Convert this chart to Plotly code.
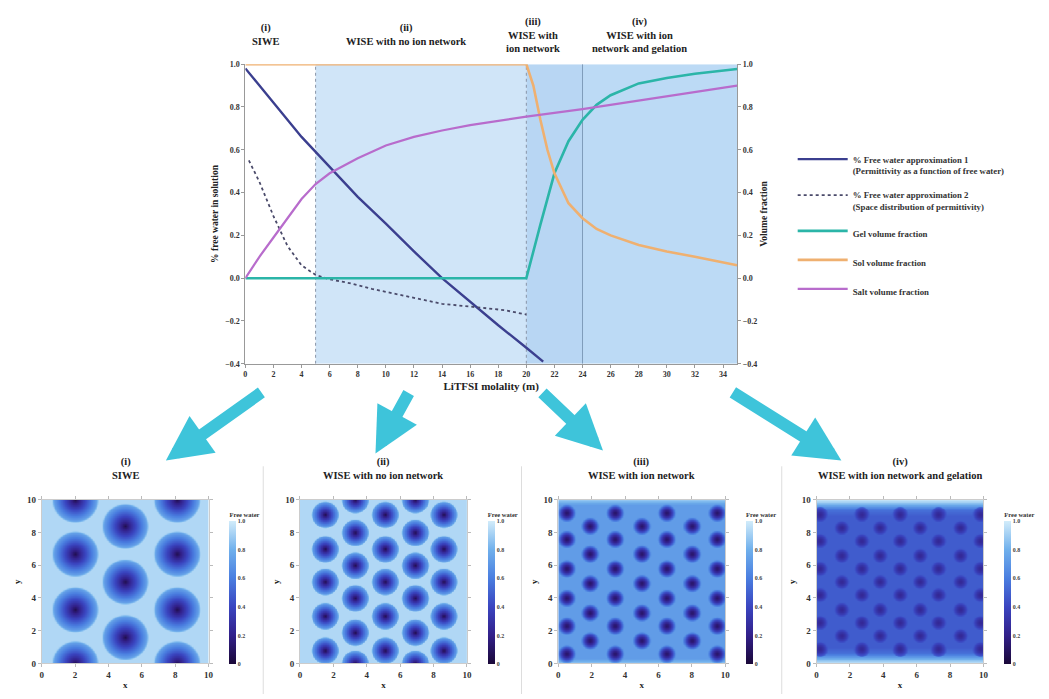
import numpy as np
import plotly.graph_objects as go

W, H = 1049, 699
FONT = "Liberation Serif"

# ---------------- main chart data ----------------
x_ticks = list(range(0, 36, 2))
y_ticks = [-0.4, -0.2, 0.0, 0.2, 0.4, 0.6, 0.8, 1.0]

approx1_x = [0, 2, 4, 6, 8, 10, 12, 14, 16, 18, 20, 21.2]
approx1_y = [0.98, 0.82, 0.66, 0.52, 0.38, 0.255, 0.125, 0.0, -0.11, -0.22, -0.325, -0.39]

approx2_x = [0.25, 1, 1.5, 2, 2.5, 3, 4, 5, 6, 7.4, 9, 10.9, 12.5, 14, 16.8, 18.5, 20]
approx2_y = [0.55, 0.45, 0.37, 0.29, 0.22, 0.15, 0.06, 0.015, -0.005, -0.023, -0.05,
             -0.077, -0.10, -0.12, -0.138, -0.15, -0.17]

gel_x = [0, 20, 21, 22, 23, 24, 25, 26, 28, 30, 32, 35]
gel_y = [0, 0, 0.25, 0.49, 0.64, 0.74, 0.81, 0.855, 0.91, 0.935, 0.955, 0.977]

sol_x = [0, 20, 20.5, 21, 21.5, 22, 23, 24, 25, 26, 28, 30, 32, 35]
sol_y = [1, 1, 0.9, 0.74, 0.6, 0.49, 0.35, 0.28, 0.23, 0.2, 0.155, 0.125, 0.1, 0.06]

salt_x = [0, 1, 2, 3, 4, 5, 6, 8, 10, 12, 14, 16, 18, 20, 24, 28, 32, 35]
salt_y = [0.0, 0.1, 0.19, 0.28, 0.37, 0.44, 0.49, 0.56, 0.62, 0.66, 0.69, 0.715,
          0.735, 0.755, 0.79, 0.83, 0.87, 0.9]

region_edges = [5, 20, 24, 35]
region_labels = ["(i)<br>SIWE", "(ii)<br>WISE with no ion network",
                 "(iii)<br>WISE with<br>ion network",
                 "(iv)<br>WISE with ion<br>network and gelation"]
panel_titles = ["(i)<br>SIWE", "(ii)<br>WISE with no ion network",
                "(iii)<br>WISE with ion network",
                "(iv)<br>WISE with ion network and gelation"]

legend_names = ["% Free water approximation 1<br>(Permittivity as a function of free water)",
                "% Free water approximation 2<br>(Space distribution of permittivity)",
                "Gel volume fraction", "Sol volume fraction", "Salt volume fraction"]

# ---------------- heat-map panel data (well centres) ----------------
siwe_groups = [([2.0, 8.1], [0.0, 3.3, 6.7, 10.0]), ([5.0], [1.6, 5.0, 8.4])]
wise_groups = [([1.5, 5.1, 8.6], [0.8, 2.9, 5.0, 7.0, 9.1]),
               ([3.3, 6.9], [0.0, 1.9, 4.0, 6.0, 8.0, 10.0])]
ion_groups = [([0.5, 3.4, 6.5, 9.5], [0.6, 2.3, 4.0, 5.8, 7.6, 9.2]),
              ([1.9, 5.0, 8.0], [1.4, 3.1, 4.9, 6.7, 8.4])]
gel_groups = [([0.2, 2.7, 5.0, 7.3, 9.8], [0.9, 2.5, 4.2, 5.8, 7.5, 9.1]),
              ([1.5, 3.8, 6.2, 8.6], [1.7, 3.3, 5.0, 6.6, 8.3])]
# well radius, centre value, rim value, profile exponent, background value, rim blur width
well_params = [
    (1.28, 0.05, 0.74, 0.9, 0.93, 0.12),
    (0.75, 0.05, 0.72, 0.9, 0.93, 0.08),
    (0.55, 0.12, 0.72, 1.6, 0.72, 0.05),
    (0.45, 0.24, 0.48, 1.6, 0.48, 0.05),
]
# brightening near top/bottom borders: distance from border -> value
edge_dist = [0.0, 0.15, 0.3, 0.6, 1.0]
edge_vals = [
    None,
    None,
    [0.88, 0.80, 0.72, 0.72, 0.72],
    [0.97, 0.9, 0.78, 0.56, 0.48],
]

cscale = [[0.0, "#1a0838"], [0.2, "#32208a"], [0.4, "#3a45c0"],
          [0.6, "#4a7ee0"], [0.8, "#70b0ec"], [1.0, "#d2ecfa"]]

grid = np.linspace(0, 10, 251)
GX, GY = np.meshgrid(grid, grid)


def build_field(groups, params, edges):
    R, c, e, p, bg, w = params
    Z = np.full(GX.shape, bg, dtype=float)
    if edges is not None:
        d = np.minimum(GY, 10 - GY)
        Z = np.maximum(Z, np.interp(d, edge_dist, edges))
    for xs, ys in groups:
        for cx in xs:
            for cy in ys:
                r = np.hypot(GX - cx, GY - cy)
                inner = c + (e - c) * (np.clip(r / R, 0, 1) ** p)
                t = np.clip((r - R) / w, 0, 1)
                outer = e + (Z - e) * t
                val = np.where(r < R, inner, outer)
                Z = np.minimum(Z, val)
    return Z


fields = [build_field(g, p, ev) for g, p, ev in
          zip([siwe_groups, wise_groups, ion_groups, gel_groups], well_params, edge_vals)]

# ---------------- figure ----------------
fig = go.Figure()

fig.add_trace(go.Scatter(x=approx1_x, y=approx1_y, mode="lines", name=legend_names[0],
                         line=dict(color="#3b3f8f", width=2.4), legendgroup="a"))
fig.add_trace(go.Scatter(x=approx2_x, y=approx2_y, mode="lines", name=legend_names[1],
                         line=dict(color="#4a4a6a", width=1.8, dash="dot"), legendgroup="b"))
fig.add_trace(go.Scatter(x=gel_x, y=gel_y, mode="lines", name=legend_names[2], yaxis="y2",
                         line=dict(color="#2bb5a8", width=2.6), legendgroup="c"))
fig.add_trace(go.Scatter(x=sol_x, y=sol_y, mode="lines", name=legend_names[3], yaxis="y2",
                         line=dict(color="#efb070", width=2.6), legendgroup="d"))
fig.add_trace(go.Scatter(x=salt_x, y=salt_y, mode="lines", name=legend_names[4], yaxis="y2",
                         line=dict(color="#b86ccc", width=2.2), legendgroup="e"))


def px(v):
    return v / W


def py(v):
    return 1 - v / H


main_dom_x = [px(245), px(740)]
main_dom_y = [py(364), py(60)]

tickfont = dict(family=FONT, size=8, color="#333", weight="bold")
axis_common = dict(showgrid=False, zeroline=False, showline=True, linecolor="#999",
                   ticks="outside", ticklen=3, tickcolor="#999", tickfont=tickfont)

layout = dict(
    width=W, height=H, margin=dict(l=0, r=0, t=0, b=0),
    paper_bgcolor="white", plot_bgcolor="white",
    font=dict(family=FONT, color="#222", weight="bold"),
    xaxis=dict(domain=main_dom_x, range=[0, 35], tickvals=x_ticks, anchor="y",
               title=dict(text="LiTFSI molality (m)", standoff=3,
                          font=dict(family=FONT, size=11, weight="bold")),
               **axis_common),
    yaxis=dict(domain=main_dom_y, range=[-0.4, 1.0], tickvals=y_ticks, tickformat=".1f",
               anchor="x",
               title=dict(text="% free water in solution", standoff=4,
                          font=dict(family=FONT, size=9.5, weight="bold")),
               **axis_common),
    yaxis2=dict(range=[-0.4, 1.0], tickvals=y_ticks, tickformat=".1f", overlaying="y",
                side="right", anchor="x",
                title=dict(text="Volume fraction", standoff=4,
                           font=dict(family=FONT, size=9.5, weight="bold")),
                **axis_common),
    legend=dict(x=px(796), y=py(144), xanchor="left", yanchor="top",
                bgcolor="rgba(0,0,0,0)", valign="top", tracegroupgap=10,
                font=dict(family=FONT, size=8.8, color="#333", weight="bold"),
                itemwidth=50),
)

shapes = []
fills = ["#d0e5f8", "#b8d6f3", "#bcdaf5"]
for i in range(3):
    shapes.append(dict(type="rect", xref="x", yref="y", x0=region_edges[i], x1=region_edges[i + 1],
                       y0=-0.4, y1=1.0, fillcolor=fills[i], line=dict(width=0), layer="below"))
for xv, dash, col in [(5, "dot", "#8895a8"), (20, "dot", "#8895a8"), (24, "solid", "#7f9cba")]:
    shapes.append(dict(type="line", xref="x", yref="y", x0=xv, x1=xv, y0=-0.4, y1=1.0,
                       line=dict(color=col, width=1, dash=dash), layer="below"))
for sx in [263, 523, 785]:
    shapes.append(dict(type="line", xref="paper", yref="paper", x0=px(sx), x1=px(sx),
                       y0=0, y1=py(468), line=dict(color="#dddddd", width=1)))

annotations = []
label_x = [265, 407, 535, 642]
for lx, txt in zip(label_x, region_labels):
    annotations.append(dict(x=px(lx), y=py(30), xref="paper", yref="paper", text=txt,
                            showarrow=False, xanchor="center", yanchor="middle",
                            font=dict(family=FONT, size=10.5, color="#222", weight="bold")))

# arrows (tail -> tip, pixel coordinates)
arrows = [((262, 393), (165, 462)), ((410, 393), (376, 455)),
          ((543, 393), (605, 452)), ((735, 393), (845, 462))]
for (tx, ty), (hx, hy) in arrows:
    annotations.append(dict(x=px(hx), y=py(hy), xref="paper", yref="paper", text="",
                            showarrow=True, ax=tx - hx, ay=ty - hy, arrowhead=2,
                            arrowsize=0.75, arrowwidth=12, arrowcolor="#3ec4da", standoff=0))

# heat-map panels
for k in range(4):
    x0, x1 = 40 + 260 * k, 208 + 260 * k
    xa = f"xaxis{k + 2}"
    ya = f"yaxis{k + 3}"
    hm_axis = {**axis_common, "linecolor": "#cccccc", "tickcolor": "#bbbbbb",
               "tickfont": dict(family=FONT, size=9, color="#333", weight="bold")}
    layout[xa] = dict(domain=[px(x0), px(x1)], range=[0, 10], anchor=f"y{k + 3}",
                      tickvals=[0, 2, 4, 6, 8, 10], mirror="ticks",
                      title=dict(text="x", standoff=2, font=dict(family=FONT, size=9, weight="bold")),
                      **hm_axis)
    layout[ya] = dict(domain=[py(668), py(502)], range=[0, 10], anchor=f"x{k + 2}",
                      tickvals=[0, 2, 4, 6, 8, 10], mirror="ticks",
                      title=dict(text="y", standoff=4, font=dict(family=FONT, size=9, weight="bold")),
                      **hm_axis)
    fig.add_trace(go.Heatmap(
        x=grid, y=grid, z=fields[k], xaxis=f"x{k + 2}", yaxis=f"y{k + 3}",
        zmin=0, zmax=1, colorscale=cscale, showlegend=False, hoverinfo="skip",
        zsmooth="best",
        colorbar=dict(x=px(229 + 260 * k), xanchor="left", y=py(590), yanchor="middle",
                      len=155, lenmode="pixels", thickness=7, outlinewidth=0, xpad=0, ypad=0,
                      tickvals=[0, 0.2, 0.4, 0.6, 0.8, 1.0],
                      ticktext=["0", "0.2", "0.4", "0.6", "0.8", "1.0"],
                      ticks="", tickfont=dict(family=FONT, size=6, color="#444", weight="bold"),
                      title=dict(text="Free water", side="top",
                                 font=dict(family=FONT, size=6.5, color="#333", weight="bold")))))
    annotations.append(dict(x=px((x0 + x1) / 2), y=py(470), xref="paper", yref="paper",
                            text=panel_titles[k], showarrow=False, xanchor="center",
                            yanchor="middle",
                            font=dict(family=FONT, size=10.5, color="#222", weight="bold")))

layout["shapes"] = shapes
layout["annotations"] = annotations
fig.update_layout(**layout)

fig.write_html("out.html")
